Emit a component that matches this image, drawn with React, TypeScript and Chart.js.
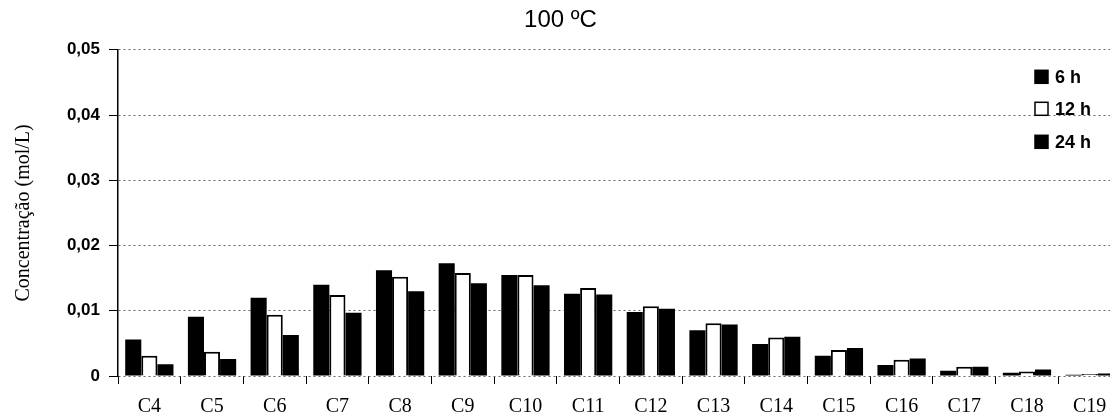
import React, { useEffect, useRef } from "react";
import { Chart, registerables } from "chart.js";

Chart.register(...registerables);

const categories = ["C4", "C5", "C6", "C7", "C8", "C9", "C10", "C11", "C12", "C13", "C14", "C15", "C16", "C17", "C18", "C19"];
const series6h = [0.0056, 0.0091, 0.0120, 0.0140, 0.0162, 0.0173, 0.0155, 0.0126, 0.0098, 0.0070, 0.0049, 0.0031, 0.0017, 0.0008, 0.0005, 0.0002];
const series12h = [0.0031, 0.0037, 0.0094, 0.0124, 0.0152, 0.0158, 0.0155, 0.0135, 0.0107, 0.0081, 0.0059, 0.0040, 0.0025, 0.0014, 0.0007, 0.0003];
const series24h = [0.0018, 0.0026, 0.0063, 0.0097, 0.0130, 0.0142, 0.0139, 0.0125, 0.0103, 0.0079, 0.0060, 0.0043, 0.0027, 0.0014, 0.0010, 0.0004];
const seriesLabels = ["6 h", "12 h", "24 h"];
const yTicks = [0, 0.01, 0.02, 0.03, 0.04, 0.05];

const legendPlugin = {
  id: "customLegend",
  afterDraw(chart: any) {
    const { ctx, chartArea } = chart;
    const x = chartArea.right - 86;
    const offsets = [27, 59, 92];
    ctx.save();
    ctx.font = "bold 18px 'Liberation Sans', Arial, sans-serif";
    ctx.textBaseline = "middle";
    ctx.textAlign = "left";
    chart.data.datasets.forEach((ds: any, i: number) => {
      const cy = chartArea.top + offsets[i];
      ctx.fillStyle = ds.backgroundColor;
      ctx.fillRect(x, cy - 6.5, 13, 13);
      ctx.strokeStyle = "#000";
      ctx.lineWidth = 1.5;
      ctx.strokeRect(x, cy - 6.5, 13, 13);
      ctx.fillStyle = "#000";
      ctx.fillText(ds.label, x + 20, cy + 1);
    });
    ctx.restore();
  },
};

export default function App() {
  const ref = useRef<HTMLCanvasElement>(null);
  useEffect(() => {
    if (!ref.current) return;
    const chart = new Chart(ref.current, {
      type: "bar",
      data: {
        labels: categories,
        datasets: [
          { label: seriesLabels[0], data: series6h, backgroundColor: "#000000", borderColor: "#000000", borderWidth: 0 },
          { label: seriesLabels[1], data: series12h, backgroundColor: "#ffffff", borderColor: "#000000", borderWidth: 2 },
          { label: seriesLabels[2], data: series24h, backgroundColor: "#000000", borderColor: "#000000", borderWidth: 0 },
        ],
      },
      options: {
        responsive: false,
        animation: false,
        layout: { padding: { top: 0, right: 4, left: 0, bottom: 0 } },
        datasets: { bar: { barPercentage: 1, categoryPercentage: 0.77 } },
        plugins: {
          legend: { display: false },
          tooltip: { enabled: false },
          title: {
            display: true,
            text: "100 ºC",
            color: "#000",
            font: { family: "'Liberation Sans', Arial, sans-serif", size: 24, weight: "normal" },
            padding: { top: 6, bottom: 15 },
          },
        },
        scales: {
          x: {
            grid: { offset: true, drawOnChartArea: false, drawTicks: true, tickLength: 8, color: "#000" },
            border: { display: false },
            ticks: {
              color: "#000",
              padding: 11,
              font: { family: "'Liberation Serif', 'Times New Roman', serif", size: 20 },
              maxRotation: 0,
              autoSkip: false,
            },
            afterFit: (scale: any) => { scale.height = 42; },
          },
          y: {
            min: 0,
            max: 0.05,
            afterBuildTicks: (scale: any) => { scale.ticks = yTicks.map((v) => ({ value: v })); },
            grid: {
              color: "#666",
              tickLength: 9,
              tickColor: "#000",
            },
            border: { display: true, color: "#000", width: 1.5, dash: [2, 3] },
            ticks: {
              color: "#000",
              padding: 9,
              font: { family: "'Liberation Sans', Arial, sans-serif", size: 17, weight: "bold" },
              callback: (v: any) => (v === 0 ? "0" : Number(v).toFixed(2).replace(".", ",")),
            },
            title: {
              display: true,
              text: "Concentração (mol/L)",
              color: "#000",
              font: { family: "'Liberation Serif', 'Times New Roman', serif", size: 20 },
              padding: { top: 12, bottom: 0 },
            },
            afterFit: (scale: any) => { scale.width = 118; },
          },
        },
      },
      plugins: [legendPlugin],
    });
    return () => chart.destroy();
  }, []);
  return (
    <div style={{ position: "fixed", left: 0, top: 0, width: 1110, height: 418, overflow: "hidden", background: "#fff" }}>
      <canvas ref={ref} width={1125} height={418} style={{ display: "block" }} />
    </div>
  );
}
